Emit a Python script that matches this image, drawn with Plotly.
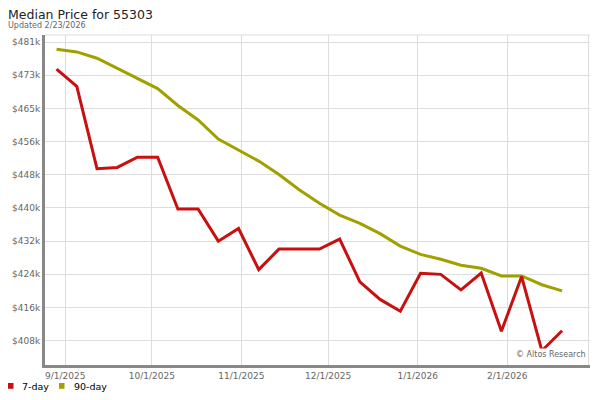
import plotly.graph_objects as go
import pandas as pd

dates = pd.date_range("2025-08-29", "2026-02-20", freq="7D").strftime("%Y-%m-%d").tolist()

price_7day = [474200, 470000, 449800, 450100, 452600, 452600, 439900, 439900,
              432000, 435100, 425000, 430050, 430050, 430050, 432500, 422000,
              417700, 414800, 424100, 423850, 420050, 424150, 409900, 423300,
              405100, 410000]

price_90day = [479100, 478450, 476900, 474400, 471900, 469450, 465300, 461750,
               457050, 454300, 451650, 448350, 444600, 441300, 438400, 436350,
               433850, 430800, 428750, 427550, 426100, 425350, 423450, 423450,
               421300, 419800]

y_tickvals = [407600, 415740, 423880, 432020, 440160, 448300, 456440, 464580, 472720, 480860]
y_ticklabels = ["$408k", "$416k", "$424k", "$432k", "$440k", "$448k", "$456k", "$465k", "$473k", "$481k"]

x_tickvals = ["2025-09-01", "2025-10-01", "2025-11-01", "2025-12-01", "2026-01-01", "2026-02-01", "2026-03-01"]
x_ticklabels = ["9/1/2025", "10/1/2025", "11/1/2025", "12/1/2025", "1/1/2026", "2/1/2026", "3/1/2026"]

series_names = ["7-day", "90-day"]

RED = "#c81010"
OLIVE = "#a0a000"

# figure sits inside an 8px page margin, so it is 592x392
W, H = 592, 392
ML, MR, MT, MB = 37, 10, 27, 35
PW, PH = W - ML - MR, H - MT - MB


def px(x):
    return (x - ML) / PW


def py(y):
    return (H - MB - y) / PH


fig = go.Figure()
fig.add_trace(go.Scatter(x=dates, y=price_90day, mode="lines", name=series_names[1],
                         line=dict(color=OLIVE, width=3), showlegend=False))
fig.add_trace(go.Scatter(x=dates, y=price_7day, mode="lines", name=series_names[0],
                         line=dict(color=RED, width=3), showlegend=False))

fig.update_layout(
    width=W, height=H,
    margin=dict(l=ML, r=MR, t=MT, b=MB, autoexpand=False),
    paper_bgcolor="white", plot_bgcolor="white",
    font=dict(family="DejaVu Sans", size=9, color="#666666"),
    title=dict(text="Median Price for 55303", x=0, xref="container", xanchor="left",
               y=1 - 2.5/H, yref="container", yanchor="top", pad=dict(l=0, t=0, b=0),
               font=dict(family="DejaVu Sans", size=12.5, color="#222222")),
    showlegend=False,
    xaxis=dict(
        type="date", automargin=False,
        range=["2025-08-25", "2026-03-01 16:00"],
        tickvals=x_tickvals, ticktext=x_ticklabels,
        showgrid=True, gridcolor="#dddddd", gridwidth=1,
        showline=True, linecolor="#888888", linewidth=3,
        ticks="", zeroline=False, fixedrange=True,
        tickfont=dict(size=9, color="#666666"),
    ),
    yaxis=dict(
        automargin=False,
        range=[401600, 482600],
        tickvals=y_tickvals, ticktext=y_ticklabels,
        showgrid=True, gridcolor="#dddddd", gridwidth=1,
        showline=True, linecolor="#888888", linewidth=3,
        ticks="", zeroline=False, fixedrange=True,
        tickfont=dict(size=9, color="#666666"),
    ),
)

fig.add_shape(type="line", xref="paper", yref="paper", x0=0, x1=1, y0=1, y1=1,
              line=dict(color="#dddddd", width=1))

fig.add_annotation(text="Updated 2/23/2026", xref="paper", yref="paper",
                   x=px(-2.5), y=py(17.5), xanchor="left", yanchor="middle", showarrow=False,
                   font=dict(family="DejaVu Sans", size=8, color="#666666"))

fig.add_annotation(text="© Altos Research", xref="paper", yref="paper",
                   x=px(580), y=py(346.5), xanchor="right", yanchor="middle", showarrow=False,
                   bgcolor="white",
                   font=dict(family="DejaVu Sans", size=8, color="#666666"))

# legend keys (squares + labels)
legend_items = [(series_names[0], RED, 0, 12), (series_names[1], OLIVE, 51, 63.5)]
for name, col, sx, tx in legend_items:
    fig.add_shape(type="rect", xref="paper", yref="paper",
                  x0=px(sx), x1=px(sx + 5.5), y0=py(380.8), y1=py(375.0),
                  fillcolor=col, line=dict(width=0))
    fig.add_annotation(text=name, xref="paper", yref="paper",
                       x=px(tx), y=py(378), xanchor="left", yanchor="middle", showarrow=False,
                       font=dict(family="DejaVu Sans", size=9.5, color="#000000"))

fig.write_html("out.html")
